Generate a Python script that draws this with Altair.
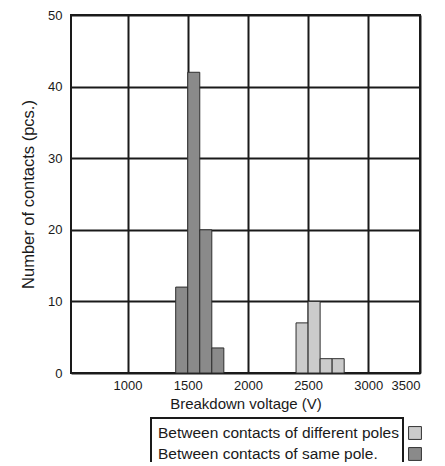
import altair as alt
import pandas as pd

# Data
same_pole_bins = [1400, 1500, 1600, 1700]
same_pole_counts = [12, 42, 20, 3.5]
diff_pole_bins = [2400, 2500, 2600, 2700]
diff_pole_counts = [7, 10, 2, 2]
bin_width = 100

series_names = ["Between contacts of different poles", "Between contacts of same pole."]
series_colors = ["#cbcbcb", "#8a8a8a"]

x_ticks = [1000, 1500, 2000, 2500, 3000, 3430]
y_ticks = [0, 10, 20, 30, 40, 50]

rows = []
for b, c in zip(same_pole_bins, same_pole_counts):
    rows.append({"start": b, "end": b + bin_width, "count": c, "color": series_colors[1]})
for b, c in zip(diff_pole_bins, diff_pole_counts):
    rows.append({"start": b, "end": b + bin_width, "count": c, "color": series_colors[0]})
bars_df = pd.DataFrame(rows)

legend_df = pd.DataFrame({"label": series_names, "color": series_colors})
box_df = pd.DataFrame({"k": [0]})

FONT = "Liberation Sans"
W, H = 349, 358

bars = alt.Chart(bars_df).mark_rect(stroke="#2e2e2e", strokeWidth=1).encode(
    x=alt.X("start:Q",
            scale=alt.Scale(domain=[530, 3430], nice=False, zero=False),
            axis=alt.Axis(values=x_ticks, grid=True, gridColor="#1a1a1a", gridWidth=2,
                          gridOpacity=1, ticks=False, domain=False,
                          labelExpr="datum.value > 3400 ? '3500' : datum.label",
                          labelFont=FONT, labelFontSize=13, labelColor="#1a1a1a",
                          labelPadding=6, format="d",
                          title="Breakdown voltage (V)", titleFont=FONT,
                          titleFontSize=15, titleFontWeight="normal",
                          titleColor="#1a1a1a", titlePadding=4)),
    x2="end:Q",
    y=alt.Y("count:Q",
            scale=alt.Scale(domain=[0, 50], nice=False),
            axis=alt.Axis(values=y_ticks, grid=True, gridColor="#1a1a1a", gridWidth=2,
                          gridOpacity=1, ticks=False, domain=False,
                          labelFont=FONT, labelFontSize=13, labelColor="#1a1a1a",
                          labelPadding=9,
                          title="Number of contacts (pcs.)", titleFont=FONT,
                          titleFontSize=16.5, titleFontWeight="normal",
                          titleColor="#1a1a1a", titlePadding=11)),
    y2=alt.datum(0),
    color=alt.Color("color:N", scale=None),
)

legend_y = alt.Y("label:N", sort=series_names,
                 scale=alt.Scale(type="point", range=[418, 439], padding=0),
                 axis=None)

legend_text = alt.Chart(legend_df).mark_text(
    align="left", baseline="middle", font=FONT, fontSize=15.5, color="#1a1a1a"
).encode(x=alt.value(87), y=legend_y, text="label:N")

legend_swatch = alt.Chart(legend_df).mark_square(
    size=165, stroke="#333333", strokeWidth=1, opacity=1
).encode(x=alt.value(344), y=legend_y, color=alt.Color("color:N", scale=None))

legend_box = alt.Chart(box_df).mark_rect(
    fill="transparent", stroke="#1a1a1a", strokeWidth=2
).encode(x=alt.value(80), x2=alt.value(332), y=alt.value(403), y2=alt.value(470))

chart = alt.layer(bars, legend_box, legend_text, legend_swatch).resolve_scale(
    y="independent"
).properties(
    width=W, height=H,
    autosize=alt.AutoSizeParams(type="none"),
    padding={"left": 63, "top": 7, "right": 16, "bottom": 89},
).configure_view(stroke="#1a1a1a", strokeWidth=2)

chart.save("out.html", embed_options={"renderer": "svg", "actions": False})
